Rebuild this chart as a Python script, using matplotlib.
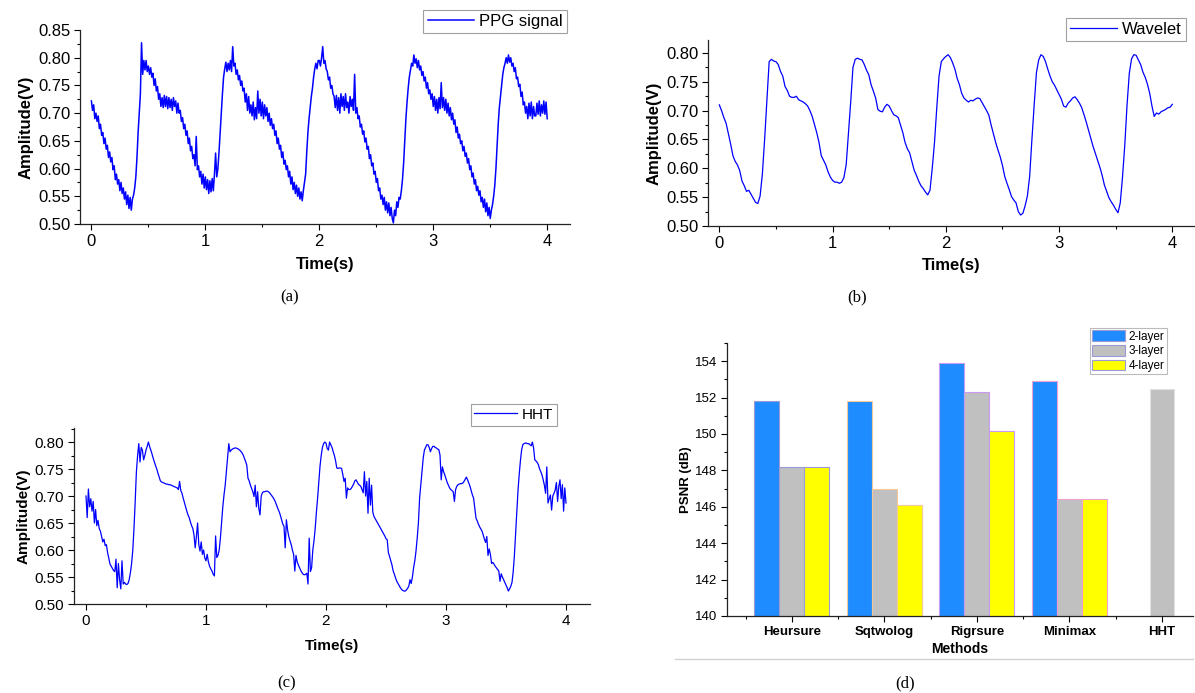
import numpy as np
import matplotlib
matplotlib.use("Agg")
import matplotlib.pyplot as plt
from matplotlib.lines import Line2D
from matplotlib.ticker import MultipleLocator, FormatStrFormatter

plt.rcParams["font.family"] = ["Liberation Sans", "DejaVu Sans"]

# (a) raw PPG signal, every 0.01 s (0 .. 4 s)
ppg_raw = [
    0.722, 0.705, 0.715, 0.690, 0.700, 0.685, 0.695, 0.672, 0.680, 0.660,
    0.665, 0.645, 0.655, 0.635, 0.642, 0.620, 0.630, 0.612, 0.620, 0.598,
    0.605, 0.580, 0.590, 0.572, 0.580, 0.560, 0.575, 0.555, 0.565, 0.545,
    0.558, 0.535, 0.552, 0.528, 0.548, 0.525, 0.545, 0.552, 0.565, 0.585,
    0.620, 0.665, 0.700, 0.735, 0.827, 0.770, 0.795, 0.778, 0.795, 0.775,
    0.785, 0.770, 0.782, 0.765, 0.772, 0.750, 0.762, 0.740, 0.748, 0.725,
    0.735, 0.712, 0.728, 0.710, 0.732, 0.712, 0.730, 0.708, 0.728, 0.710,
    0.725, 0.705, 0.728, 0.712, 0.722, 0.700, 0.718, 0.700, 0.705, 0.685,
    0.692, 0.672, 0.680, 0.660, 0.668, 0.645, 0.655, 0.632, 0.640, 0.618,
    0.625, 0.605, 0.658, 0.598, 0.605, 0.585, 0.595, 0.572, 0.590, 0.565,
    0.585, 0.562, 0.580, 0.555, 0.578, 0.558, 0.582, 0.560, 0.590, 0.628,
    0.585, 0.600, 0.630, 0.665, 0.700, 0.735, 0.765, 0.780, 0.792, 0.775,
    0.790, 0.778, 0.795, 0.775, 0.820, 0.785, 0.790, 0.770, 0.778, 0.760,
    0.768, 0.750, 0.758, 0.740, 0.745, 0.720, 0.735, 0.705, 0.730, 0.700,
    0.715, 0.695, 0.720, 0.688, 0.710, 0.690, 0.740, 0.700, 0.725, 0.695,
    0.720, 0.690, 0.715, 0.695, 0.710, 0.685, 0.700, 0.678, 0.690, 0.672,
    0.680, 0.660, 0.668, 0.645, 0.655, 0.635, 0.642, 0.620, 0.630, 0.608,
    0.615, 0.598, 0.605, 0.585, 0.595, 0.572, 0.585, 0.562, 0.575, 0.555,
    0.570, 0.550, 0.565, 0.545, 0.558, 0.542, 0.560, 0.575, 0.590, 0.630,
    0.665, 0.690, 0.710, 0.730, 0.745, 0.765, 0.780, 0.790, 0.780, 0.795,
    0.795, 0.785, 0.800, 0.820, 0.790, 0.795, 0.780, 0.775, 0.760, 0.765,
    0.745, 0.750, 0.735, 0.730, 0.710, 0.732, 0.705, 0.728, 0.700, 0.735,
    0.712, 0.730, 0.705, 0.735, 0.710, 0.720, 0.700, 0.730, 0.712, 0.725,
    0.705, 0.770, 0.700, 0.710, 0.690, 0.695, 0.675, 0.680, 0.662, 0.668,
    0.648, 0.655, 0.635, 0.640, 0.618, 0.625, 0.605, 0.610, 0.590, 0.595,
    0.575, 0.582, 0.560, 0.565, 0.545, 0.552, 0.535, 0.548, 0.525, 0.540,
    0.520, 0.538, 0.515, 0.530, 0.510, 0.502, 0.525, 0.515, 0.540, 0.530,
    0.548, 0.545, 0.560, 0.580, 0.610, 0.650, 0.690, 0.720, 0.745, 0.765,
    0.778, 0.790, 0.785, 0.805, 0.790, 0.798, 0.782, 0.795, 0.778, 0.785,
    0.768, 0.775, 0.758, 0.765, 0.745, 0.755, 0.735, 0.742, 0.725, 0.735,
    0.712, 0.730, 0.705, 0.725, 0.700, 0.728, 0.708, 0.755, 0.710, 0.728,
    0.705, 0.725, 0.700, 0.718, 0.695, 0.710, 0.688, 0.700, 0.680, 0.688,
    0.665, 0.675, 0.655, 0.662, 0.645, 0.650, 0.632, 0.640, 0.622, 0.628,
    0.610, 0.618, 0.598, 0.605, 0.585, 0.592, 0.572, 0.580, 0.560, 0.568,
    0.552, 0.560, 0.540, 0.548, 0.530, 0.545, 0.522, 0.538, 0.515, 0.530,
    0.510, 0.525, 0.535, 0.550, 0.570, 0.600, 0.640, 0.680, 0.710, 0.730,
    0.750, 0.770, 0.782, 0.790, 0.800, 0.790, 0.805, 0.792, 0.800, 0.785,
    0.790, 0.775, 0.782, 0.762, 0.765, 0.748, 0.752, 0.730, 0.738, 0.715,
    0.720, 0.700, 0.712, 0.690, 0.718, 0.695, 0.720, 0.690, 0.712, 0.695,
    0.695, 0.718, 0.698, 0.722, 0.695, 0.715, 0.700, 0.722, 0.698, 0.720,
    0.690,
]

# (b) wavelet denoised signal, every 0.02 s
ppg_wavelet = [
    0.710, 0.700, 0.688, 0.678, 0.660, 0.642, 0.622, 0.612, 0.606, 0.596,
    0.578, 0.570, 0.560, 0.562, 0.555, 0.548, 0.541, 0.539, 0.552, 0.590,
    0.650, 0.719, 0.785, 0.789, 0.786, 0.785, 0.780, 0.768, 0.760, 0.742,
    0.735, 0.725, 0.723, 0.723, 0.725, 0.719, 0.717, 0.715, 0.712, 0.708,
    0.700, 0.690, 0.676, 0.662, 0.645, 0.622, 0.614, 0.606, 0.594, 0.585,
    0.579, 0.576, 0.576, 0.574, 0.576, 0.584, 0.606, 0.660, 0.715, 0.775,
    0.789, 0.791, 0.789, 0.788, 0.780, 0.770, 0.762, 0.745, 0.734, 0.722,
    0.702, 0.699, 0.698, 0.706, 0.711, 0.708, 0.700, 0.693, 0.691, 0.688,
    0.675, 0.662, 0.645, 0.634, 0.627, 0.612, 0.597, 0.588, 0.578, 0.570,
    0.565, 0.559, 0.554, 0.562, 0.600, 0.645, 0.705, 0.760, 0.785, 0.790,
    0.794, 0.797, 0.792, 0.783, 0.772, 0.756, 0.745, 0.730, 0.722, 0.718,
    0.715, 0.718, 0.717, 0.720, 0.722, 0.721, 0.714, 0.707, 0.700, 0.692,
    0.675, 0.660, 0.645, 0.632, 0.620, 0.605, 0.586, 0.574, 0.563, 0.551,
    0.545, 0.540, 0.525, 0.519, 0.522, 0.535, 0.552, 0.586, 0.650, 0.710,
    0.766, 0.788, 0.797, 0.794, 0.785, 0.772, 0.760, 0.750, 0.744, 0.736,
    0.728, 0.720, 0.708, 0.706, 0.713, 0.717, 0.722, 0.724, 0.719, 0.713,
    0.705, 0.693, 0.680, 0.666, 0.652, 0.638, 0.626, 0.614, 0.602, 0.588,
    0.571, 0.560, 0.549, 0.542, 0.536, 0.529, 0.523, 0.540, 0.585, 0.640,
    0.710, 0.765, 0.790, 0.797, 0.796, 0.788, 0.780, 0.767, 0.758, 0.746,
    0.730, 0.708, 0.690, 0.696, 0.694, 0.698, 0.700, 0.702, 0.705, 0.706,
    0.711,
]

# (c) HHT denoised signal, every 0.01 s
ppg_hht = [
    0.700, 0.660, 0.713, 0.680, 0.695, 0.672, 0.690, 0.650, 0.675, 0.645,
    0.655, 0.640, 0.635, 0.625, 0.615, 0.620, 0.608, 0.610, 0.595, 0.585,
    0.574, 0.570, 0.566, 0.562, 0.560, 0.583, 0.530, 0.575, 0.545, 0.528,
    0.580, 0.537, 0.540, 0.537, 0.536, 0.538, 0.545, 0.558, 0.575, 0.600,
    0.641, 0.690, 0.745, 0.775, 0.797, 0.763, 0.790, 0.785, 0.767, 0.775,
    0.785, 0.792, 0.800, 0.792, 0.785, 0.778, 0.770, 0.763, 0.756, 0.750,
    0.742, 0.735, 0.728, 0.726, 0.725, 0.724, 0.723, 0.722, 0.722, 0.721,
    0.721, 0.720, 0.719, 0.718, 0.717, 0.716, 0.715, 0.712, 0.727, 0.710,
    0.705, 0.696, 0.688, 0.680, 0.672, 0.665, 0.660, 0.652, 0.645, 0.640,
    0.628, 0.604, 0.625, 0.650, 0.610, 0.598, 0.615, 0.592, 0.600, 0.585,
    0.580, 0.592, 0.578, 0.570, 0.565, 0.561, 0.555, 0.552, 0.626, 0.586,
    0.590, 0.600, 0.622, 0.650, 0.680, 0.702, 0.720, 0.745, 0.770, 0.797,
    0.782, 0.785, 0.787, 0.788, 0.789, 0.789, 0.788, 0.787, 0.785, 0.783,
    0.780, 0.776, 0.770, 0.764, 0.757, 0.733, 0.728, 0.720, 0.714, 0.708,
    0.699, 0.720, 0.680, 0.708, 0.677, 0.665, 0.700, 0.706, 0.708, 0.708,
    0.709, 0.709, 0.708, 0.706, 0.703, 0.700, 0.697, 0.693, 0.688, 0.682,
    0.676, 0.671, 0.664, 0.656, 0.648, 0.644, 0.604, 0.656, 0.637, 0.625,
    0.617, 0.610, 0.600, 0.592, 0.561, 0.590, 0.578, 0.572, 0.567, 0.562,
    0.558, 0.555, 0.554, 0.555, 0.557, 0.537, 0.622, 0.560, 0.567, 0.600,
    0.617, 0.640, 0.670, 0.696, 0.725, 0.755, 0.775, 0.790, 0.797, 0.800,
    0.798, 0.788, 0.785, 0.800, 0.795, 0.790, 0.782, 0.775, 0.765, 0.752,
    0.751, 0.752, 0.752, 0.751, 0.740, 0.727, 0.733, 0.696, 0.715, 0.712,
    0.712, 0.714, 0.718, 0.722, 0.728, 0.730, 0.726, 0.722, 0.720, 0.718,
    0.712, 0.706, 0.745, 0.700, 0.727, 0.668, 0.733, 0.683, 0.720, 0.670,
    0.662, 0.658, 0.654, 0.650, 0.646, 0.642, 0.638, 0.634, 0.630, 0.626,
    0.621, 0.619, 0.595, 0.588, 0.580, 0.572, 0.561, 0.555, 0.548, 0.542,
    0.538, 0.534, 0.530, 0.527, 0.525, 0.524, 0.524, 0.526, 0.529, 0.533,
    0.545, 0.538, 0.550, 0.567, 0.580, 0.598, 0.622, 0.650, 0.696, 0.720,
    0.745, 0.770, 0.785, 0.790, 0.795, 0.795, 0.790, 0.782, 0.788, 0.792,
    0.792, 0.790, 0.789, 0.787, 0.786, 0.776, 0.730, 0.754, 0.745, 0.739,
    0.732, 0.725, 0.720, 0.715, 0.712, 0.710, 0.708, 0.690, 0.712, 0.718,
    0.721, 0.722, 0.723, 0.723, 0.724, 0.727, 0.731, 0.735, 0.730, 0.724,
    0.718, 0.710, 0.702, 0.696, 0.678, 0.659, 0.654, 0.648, 0.643, 0.639,
    0.635, 0.628, 0.620, 0.614, 0.625, 0.590, 0.602, 0.592, 0.575, 0.577,
    0.574, 0.570, 0.567, 0.564, 0.561, 0.542, 0.556, 0.550, 0.545, 0.540,
    0.535, 0.530, 0.524, 0.528, 0.533, 0.540, 0.560, 0.590, 0.630, 0.670,
    0.710, 0.740, 0.765, 0.785, 0.795, 0.797, 0.798, 0.798, 0.797, 0.797,
    0.795, 0.793, 0.800, 0.789, 0.767, 0.765, 0.762, 0.758, 0.750, 0.745,
    0.739, 0.730, 0.720, 0.705, 0.754, 0.687, 0.695, 0.702, 0.674, 0.700,
    0.705, 0.711, 0.725, 0.690, 0.718, 0.730, 0.695, 0.721, 0.672, 0.715,
    0.687,
]

# (d) PSNR of the denoising methods
methods = ["Heursure", "Sqtwolog", "Rigrsure", "Minimax", "HHT"]
psnr_2layer = [151.8, 151.8, 153.9, 152.9, np.nan]
psnr_3layer = [148.2, 147.0, 152.3, 146.45, 152.45]
psnr_4layer = [148.2, 146.1, 150.15, 146.45, np.nan]

W, H = 1195, 693
fig = plt.figure(figsize=(W / 100, H / 100), dpi=100)


def px_axes(left, top, right, bottom):
    # axes from pixel box of the reference picture
    return fig.add_axes([left / W, 1 - bottom / H, (right - left) / W, (bottom - top) / H])


def signal_panel(ax, values, label, ytop, fs, legend_xy, legend_fs, lw, xpad):
    t = np.linspace(0, 4, len(values))
    ax.plot(t, values, color="#0000FF", lw=lw, label=label)
    ax.set_xlim(-0.1, 4.2)
    ax.set_ylim(0.5, ytop)
    ax.spines["top"].set_visible(False)
    ax.spines["right"].set_visible(False)
    for s in ("left", "bottom"):
        ax.spines[s].set_linewidth(0.9)
        ax.spines[s].set_color("#222222")
    ax.xaxis.set_major_locator(MultipleLocator(1))
    ax.xaxis.set_minor_locator(MultipleLocator(0.5))
    ax.yaxis.set_major_locator(MultipleLocator(0.05))
    ax.yaxis.set_minor_locator(MultipleLocator(0.025))
    ax.yaxis.set_major_formatter(FormatStrFormatter("%.2f"))
    ax.tick_params(which="major", direction="out", length=4, width=0.8, labelsize=fs, pad=3)
    ax.tick_params(which="minor", direction="out", length=2.5, width=0.8)
    ax.set_xlabel("Time(s)", fontsize=fs, fontweight="bold", labelpad=xpad)
    ax.set_ylabel("Amplitude(V)", fontsize=fs, fontweight="bold", labelpad=3)
    leg = ax.legend(loc="upper right", bbox_to_anchor=(legend_xy[0] / W, 1 - legend_xy[1] / H),
                    bbox_transform=fig.transFigure, fancybox=False, edgecolor="#888888",
                    fontsize=legend_fs, handlelength=2.8, handletextpad=0.3,
                    borderpad=0.25, borderaxespad=0)
    leg.get_frame().set_linewidth(0.8)


ax_a = px_axes(80, 30, 570, 224)
signal_panel(ax_a, ppg_raw, "PPG signal", 0.85, 12, (567, 10), 12, 1.1, 6)

ax_b = px_axes(708, 40, 1195, 226)
signal_panel(ax_b, ppg_wavelet, "Wavelet", 0.8225, 12, (1186, 18), 12, 0.9, 5)

ax_c = px_axes(74, 428, 590, 604)
signal_panel(ax_c, ppg_hht, "HHT", 0.826, 11, (557, 404), 11, 0.9, 8)

# (d) grouped bars
ax_d = px_axes(727, 343, 1193, 616)
x = np.arange(len(methods))
w = 0.27
group_edges = ["#9A9AD8", "#F5C89A", "#C89AF0", "#F0A0D0", "#E2E2E2"]
ax_d.bar(x - w, psnr_2layer, w, color="#1E8CFF", edgecolor=group_edges, lw=0.8, label="2-layer")
ax_d.bar(x, psnr_3layer, w, color="#C0C0C0", edgecolor=group_edges, lw=0.8, label="3-layer")
ax_d.bar(x + w, psnr_4layer, w, color="#FFFF00", edgecolor=group_edges, lw=0.8, label="4-layer")
ax_d.set_xlim(-0.7, 4.335)
ax_d.set_ylim(140, 155)
ax_d.yaxis.set_major_locator(MultipleLocator(2))
ax_d.yaxis.set_minor_locator(MultipleLocator(1))
ax_d.set_xticks(x)
ax_d.set_xticks(np.arange(-0.5, 4.5, 1), minor=True)
ax_d.set_xticklabels(methods, fontweight="bold", fontsize=9.5)
ax_d.spines["top"].set_visible(False)
ax_d.spines["right"].set_visible(False)
for s in ("left", "bottom"):
    ax_d.spines[s].set_linewidth(0.9)
    ax_d.spines[s].set_color("#222222")
ax_d.tick_params(which="major", direction="out", length=4, width=0.8, labelsize=9.5, pad=3)
ax_d.tick_params(which="minor", direction="out", length=2.5, width=0.8)
ax_d.set_ylabel("PSNR (dB)", fontsize=9.5, fontweight="bold", labelpad=2)
ax_d.set_xlabel("Methods", fontsize=10, fontweight="bold", labelpad=3)
leg = ax_d.legend(loc="upper right", bbox_to_anchor=(1167 / W, 1 - 328 / H),
                  bbox_transform=fig.transFigure, fancybox=False, edgecolor="#AAAAAA",
                  fontsize=8.5, handlelength=2.8, handleheight=1.0, handletextpad=0.3,
                  labelspacing=0.2, borderpad=0.2, borderaxespad=0)
leg.get_frame().set_linewidth(0.8)

# thin rule under panel (d)
fig.add_artist(Line2D([675 / W, 1193 / W], [1 - 659 / H, 1 - 659 / H], color="#D0D0D0", lw=1))

# panel captions
for txt, cx, cy in [("(a)", 290, 297), ("(b)", 857, 297), ("(c)", 287, 683), ("(d)", 905, 683)]:
    fig.text(cx / W, 1 - cy / H, txt, ha="center", va="center",
             family="Liberation Serif", fontsize=12)

fig.savefig("out.png", dpi=100)
